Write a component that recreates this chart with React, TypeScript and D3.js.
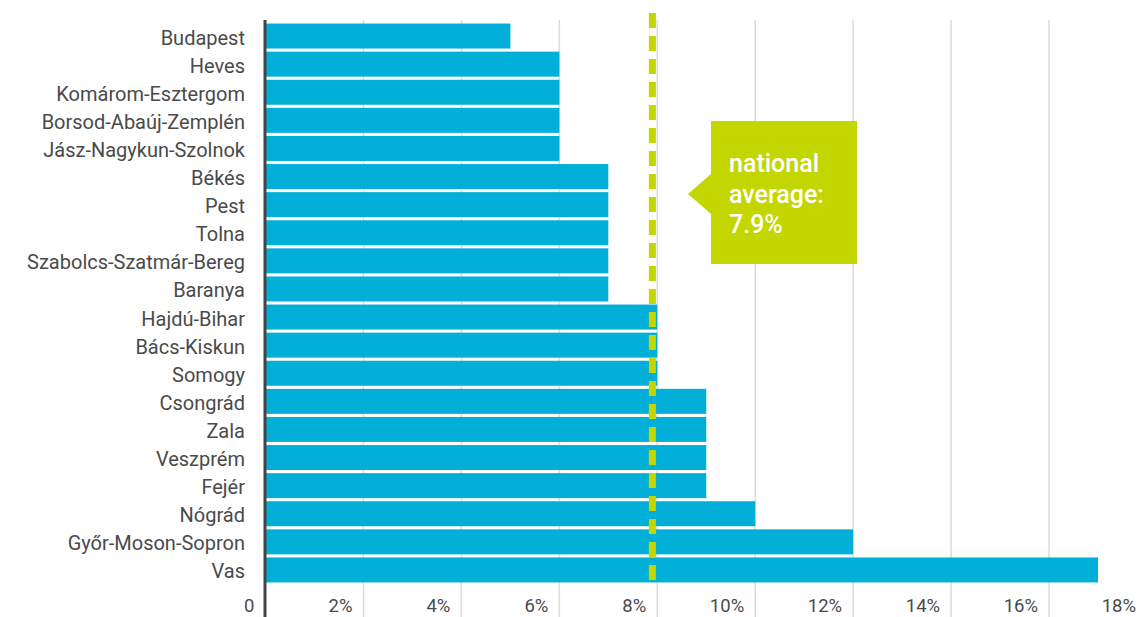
import React from "react";
import * as d3 from "d3";

// Share by county, sorted ascending (percent)
const counties: string[] = [
  "Budapest",
  "Heves",
  "Komárom-Esztergom",
  "Borsod-Abaúj-Zemplén",
  "Jász-Nagykun-Szolnok",
  "Békés",
  "Pest",
  "Tolna",
  "Szabolcs-Szatmár-Bereg",
  "Baranya",
  "Hajdú-Bihar",
  "Bács-Kiskun",
  "Somogy",
  "Csongrád",
  "Zala",
  "Veszprém",
  "Fejér",
  "Nógrád",
  "Győr-Moson-Sopron",
  "Vas",
];
const values: number[] = [5, 6, 6, 6, 6, 7, 7, 7, 7, 7, 8, 8, 8, 9, 9, 9, 9, 10, 12, 17];
const tickValues: number[] = [0, 2, 4, 6, 8, 10, 12, 14, 16, 18];
const nationalAverage = 7.9;
const calloutLines: string[] = ["national", "average:", `${nationalAverage}%`];

const W = 1140;
const H = 617;
const FONT = "Roboto, 'Noto Sans', sans-serif";
const BAR = "#02afd8";
const LIME = "#c4d600";

export default function App() {
  const x = d3.scaleLinear().domain([0, 18]).range([265.5, 1147]);
  const y = d3
    .scaleBand<string>()
    .domain(counties)
    .range([22, 584])
    .paddingInner(0.11)
    .paddingOuter(0.055);

  const xAvg = x(nationalAverage);
  const boxX = 711;
  const boxY = 121;
  const boxW = 146;
  const boxH = 143;
  const tipX = 688;
  const tipY = 194;

  return (
    <svg
      width={W}
      height={H}
      style={{ position: "absolute", left: 0, top: 0, background: "#fff" }}
      fontFamily={FONT}
    >
      {/* vertical gridlines */}
      {tickValues
        .filter((t) => t > 0)
        .map((t) => (
          <line
            key={`g${t}`}
            x1={x(t)}
            x2={x(t)}
            y1={20}
            y2={H}
            stroke="#dcdcdc"
            strokeWidth={1.5}
          />
        ))}

      {/* bars */}
      {counties.map((c, i) => (
        <rect
          key={c}
          x={x(0)}
          y={y(c)!}
          width={x(values[i]) - x(0)}
          height={y.bandwidth()}
          fill={BAR}
        />
      ))}

      {/* zero axis */}
      <line x1={x(0) - 0.5} x2={x(0) - 0.5} y1={20} y2={H} stroke="#444" strokeWidth={3} />

      {/* category labels */}
      {counties.map((c) => (
        <text
          key={`l${c}`}
          x={245}
          y={y(c)! + y.bandwidth() / 2 + 8.5}
          textAnchor="end"
          fontSize={20}
          fill="#4a4a4a"
        >
          {c}
        </text>
      ))}

      {/* x tick labels, right-aligned just left of each gridline */}
      {tickValues.map((t) => (
        <text
          key={`t${t}`}
          x={x(t) - 11}
          y={612}
          textAnchor="end"
          fontSize={18.5}
          fill="#4a4a4a"
        >
          {t === 0 ? "0" : `${t}%`}
        </text>
      ))}

      {/* national average line */}
      <line
        x1={xAvg}
        x2={xAvg}
        y1={13}
        y2={582}
        stroke={LIME}
        strokeWidth={7}
        strokeDasharray="15 8"
      />

      {/* callout */}
      <path
        d={`M${boxX},${boxY} H${boxX + boxW} V${boxY + boxH} H${boxX} V${tipY + 20} L${tipX},${tipY} L${boxX},${tipY - 20} Z`}
        fill={LIME}
      />
      {calloutLines.map((s, i) => (
        <text
          key={`c${i}`}
          x={729}
          y={172 + i * 30.5}
          fontSize={25}
          fontWeight={500}
          fill="#fff"
        >
          {s}
        </text>
      ))}
    </svg>
  );
}
